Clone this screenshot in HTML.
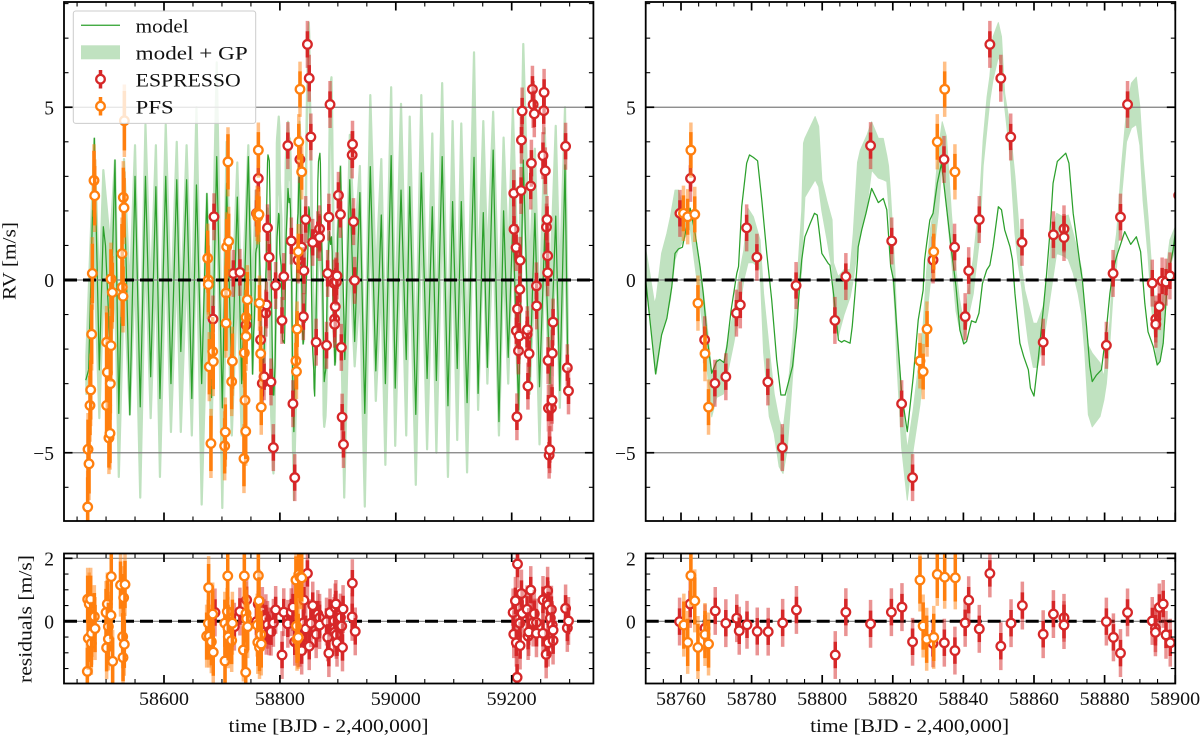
<!DOCTYPE html>
<html lang="en">
<head>
<meta charset="utf-8">
<title>RV time series</title>
<style>
html,body{margin:0;padding:0;background:#fff;}
svg{display:block;font-family:"Liberation Serif",serif;}
</style>
</head>
<body>
<svg id="chart" xmlns="http://www.w3.org/2000/svg" width="1200" height="738" viewBox="0 0 1200 738">
  <defs>
    <clipPath id="clip-a"><rect x="64" y="2" width="529.4" height="519"/></clipPath>
    <clipPath id="clip-b"><rect x="645.7" y="2" width="529.6" height="519"/></clipPath>
    <clipPath id="clip-c"><rect x="64" y="553.5" width="529.4" height="130"/></clipPath>
    <clipPath id="clip-d"><rect x="645.7" y="553.5" width="529.6" height="130"/></clipPath>
  </defs>
  <rect x="0" y="0" width="1200" height="738" fill="#fff"/>
  <g id="panel-a" clip-path="url(#clip-a)"></g>
  <g id="panel-b" clip-path="url(#clip-b)"></g>
  <g id="panel-c" clip-path="url(#clip-c)"></g>
  <g id="panel-d" clip-path="url(#clip-d)"></g>
  <g id="axes-layer"></g>

  <text transform="translate(15.5,261) rotate(-90)" text-anchor="middle" font-size="18.5" textLength="78" lengthAdjust="spacingAndGlyphs" fill="#111">RV [m/s]</text>
  <text transform="translate(31.5,619) rotate(-90)" text-anchor="middle" font-size="18.5" textLength="128" lengthAdjust="spacingAndGlyphs" fill="#111">residuals [m/s]</text>
  <text x="328.5" y="732" text-anchor="middle" font-size="18.5" textLength="200" lengthAdjust="spacingAndGlyphs" fill="#111">time [BJD - 2,400,000]</text>
  <text x="909.6" y="732" text-anchor="middle" font-size="18.5" textLength="199" lengthAdjust="spacingAndGlyphs" fill="#111">time [BJD - 2,400,000]</text>

  <g>
    <rect x="73.3" y="11" width="182.4" height="112.4" rx="2.5" fill="#fff" fill-opacity="0.8" stroke="#ccc" stroke-width="1"/>
    <line x1="81" y1="25.3" x2="120" y2="25.3" stroke="#2ca02c" stroke-width="1.25"/>
    <text x="135.7" y="32.5" font-size="19" textLength="53" lengthAdjust="spacingAndGlyphs" fill="#111">model</text>
    <rect x="81" y="45.3" width="39" height="14" fill="#c0e2c0"/>
    <text x="135.7" y="59.5" font-size="19" textLength="112" lengthAdjust="spacingAndGlyphs" fill="#111">model + GP</text>
    <line x1="100.5" y1="70" x2="100.5" y2="88.5" stroke="#d62728" stroke-width="3.5"/>
    <circle cx="100.5" cy="79.2" r="4.3" fill="#fff" stroke="#d62728" stroke-width="2.3"/>
    <text x="135.7" y="86.5" font-size="19" textLength="105" lengthAdjust="spacingAndGlyphs" fill="#111">ESPRESSO</text>
    <line x1="100.5" y1="97" x2="100.5" y2="115.5" stroke="#ff7f0e" stroke-width="3.5"/>
    <circle cx="100.5" cy="106.2" r="4.3" fill="#fff" stroke="#ff7f0e" stroke-width="2.3"/>
    <text x="135.7" y="113.5" font-size="19" textLength="38" lengthAdjust="spacingAndGlyphs" fill="#111">PFS</text>
  </g>
</svg>
<script>
// ---- tick values ----
const leftMajorTicks = [58600, 58800, 59000, 59200];
const leftTickLabels = ['58600', '58800', '59000', '59200'];
const rightMajorTicks = [58760, 58780, 58800, 58820, 58840, 58860, 58880, 58900];
const rightTickLabels = ['58760', '58780', '58800', '58820', '58840', '58860', '58880', '58900'];
const leftMinorTicks = [58450, 58500, 58550, 58650, 58700, 58750, 58850, 58900, 58950, 59050, 59100, 59150, 59250, 59300];
const rightMinorTicks = [58755, 58765, 58770, 58775, 58785, 58790, 58795, 58805, 58810, 58815, 58825, 58830, 58835, 58845, 58850, 58855, 58865, 58870, 58875, 58885, 58890, 58895];
const rvMajorTicks = [-5, 0, 5];
const rvTickLabels = ['\u22125', '0', '5'];
const rvMinorTicks = [-6, -4, -3, -2, -1, 1, 2, 3, 4, 6, 7, 8];
const resMajorTicks = [0, 2];
const resTickLabels = ['0', '2'];
const resMinorTicks = [-1.5, -1, -0.5, 0.5, 1, 1.5];

// ---- model curve ----
const modelTime = [58465,58470,58479.8,58488.4,58495.3,58499,58507,58515.4,58522,58531,58541,58550,58559,58568,58577,58586,58593,58603,58612,58622,58629,58639,58648,58656,58665,58674,58682,58691,58700.6,58708,58717,58726.5,58734,58745.5,
58750,58752.8,58754.5,58756,58757.4,58758.3,58759.3,58760.4,58761.6,58762.6,58764,58765.4,58766.3,58767.5,58768.7,58770.1,58771,58772.2,58773,58774.2,58775.8,58776.3,58777.2,58778.6,58779.4,58780.5,58781.7,58782.9,58784.3,58785.7,58787.1,58788.3,58789.5,58791.6,58792.8,58793.7,58794.2,58795.1,58796.6,58797.8,58798.6,58799.9,58801.7,58802.2,58803.2,58804.6,58805.5,58806.2,58807.9,58808.5,58809.3,58810,58810.2,58811.2,58812.4,58814,58815.9,58817.3,58818.3,58819.4,58820.2,58821.1,58822.5,58824.1,58825.8,58827.2,58828.6,58829,58829.6,58830.5,58831.4,58832.6,58833.8,58835.2,58836.6,58837.9,58839,58840.1,58840.9,58842.3,58843.5,58844.4,58845.4,58846.6,58847.5,58848.4,58849.9,58850.8,58851.7,58853.2,58853.9,58854.6,58856,58857.1,58858.4,58859,58860,58861.2,58862.6,58863.5,58864.5,58865.4,58866.6,58869,58869.9,58871.1,58873,58873.7,58874.9,58875.8,58876.5,58877.7,58879.1,58880.4,58881.5,58882.4,58883.4,58884.3,58885.7,58887.4,58889,58890.2,58891.4,58892.3,58893.8,58894.9,58895.7,58896.6,58897.5,58898.5,58899.4,58900,
58904.5,58912,58920.6,58929,58938,58946.5,58956,58965.5,58975,58982,58992,58999,59009,59018,59024,59034.5,59044,59054,59063,59070,59080,59090,59098,59106,59113,59123,59135,59142,59151,59158,59168,59178,59186,59194,59202,59212,59220,59231,59240,59248,59257,59266,59276,59283,59292,59297];
const modelRV = [-2.9,-2.6,4.1,-2.6,1.54,1,-2,3.47,-3.86,3,-3.9,3,-3.67,3,-2.8,2.7,-3.43,3,-3,2.9,-2.07,2.9,-3.43,2.75,-3,2.5,-3.4,3.57,-3.7,2.8,-3,2.4,-3,3.57,
0,-2.72,-1.59,-1.11,-0.19,0.77,0.9,0.95,1.54,2.07,1.35,0.39,-0.39,-1.74,-2.7,-2.36,-2.3,-2.39,-1.93,-0.87,0.19,0.39,2.12,3.38,3.62,3.55,3.45,2.3,0.77,-0.58,-2.3,-3.33,-3.33,-2.5,-1.35,0,0.58,1.25,1.64,1.93,1.88,0.77,0.48,0.43,-0.39,-1.74,-1.8,-1.75,-1.83,-1.35,-0.39,0.58,0.96,1.45,1.93,2.65,2.24,2.36,2.03,0.39,0,-1.35,-3.28,-4.39,-2.8,-1.16,-0.29,0.58,1.06,1.74,1.93,2.8,3.38,2.12,0.87,-0.19,-1.45,-1.85,-1.78,-1.18,-1.23,-0.96,-0.1,0.29,0.43,0.96,2.12,2.03,1.45,0.96,0.58,-0.39,-1.83,-2.22,-2.6,-3.13,-3.36,-2.3,-0.87,0.1,1.35,2.8,3.43,3.67,3.38,1.93,0.48,0,-1.35,-2.5,-2.94,-2.75,-2.6,-1.54,-0.39,0.29,0.68,0.96,1.4,1.03,1.25,0.82,-0.68,-1.5,-1.93,-2.46,-2.36,-1.83,-0.48,0.39,0.87,1.35,
3.28,-2.3,2.9,-1.78,2.53,-3.86,3.28,-2.63,1.88,-3,3.6,-3.13,2.6,-2.3,2.7,-3.89,3.1,-2.85,2.12,-2.91,3.57,-3.64,2.27,-2.56,2.27,-3.55,3.55,-3.28,1.95,-2.53,3.76,-4.1,2,-2.24,1.7,-3.76,3.47,-3,1.93,-3.09,1.35,-3,1.85,-3.2,3.33,-2.8];

// ---- model + GP band ----
const bandTime = [58466,58479.8,58488.4,58495.3,58507,58515.4,58522,58531,58541,58550,58559,58568,58577,58586,58593,58603,58612,58622,58629,58639,58648,58656,58665,58674,58682,58691,58700.6,58708,58717,58726.5,58734,58745.5,
58750,58751,58752.5,58753,58754.5,58756,58757,58758.3,58759.3,58761,58762.6,58764,58765.4,58766.3,58767.5,58768.7,58770.1,58772,58773,58775,58776.4,58777.8,58779,58780.5,58782.4,58783.4,58785,58786.4,58787.8,58788.9,58790.1,58791.6,58792.9,58794.2,58794.7,58795.1,58798,58799,58799.9,58801.3,58802.8,58803.2,58804.5,58806.2,58807.9,58808.8,58810,58810.8,58812.7,58814,58815.9,58817.3,58818.3,58818.8,58819.3,58819.7,58820.6,58821.1,58822.5,58824.1,58825.8,58827.7,58828.6,58829.6,58830.7,58831.4,58832.9,58834,58835.2,58836.6,58837.9,58838.8,58840.1,58841.4,58842.8,58843.2,58844.7,58845.6,58846.7,58847.5,58848.4,58849.9,58850.8,58851.7,58853.2,58854.6,58855.5,58856.5,58857.4,58858.4,58859.8,58860.9,58862.6,58864,58865,58866.4,58868.3,58869.7,58871.1,58872.5,58873.5,58874.4,58875.4,58876.5,58878.7,58879.8,58880.5,58881.5,58882.4,58883.4,58884.8,58886.2,58887.6,58889,58890,58890.9,58892.3,58893.3,58894.9,58895.7,58896.6,58897.5,58898.5,58900,
58904.5,58911,58920.6,58929,58938,58946.5,58956,58965.5,58975,58982,58992,58999,59009,59018,59024,59034.5,59044,59054,59063,59070,59080,59090,59098,59106,59113,59123,59135,59142,59151,59158,59168,59178,59186,59194,59202,59212,59220,59231,59240,59248,59257,59266,59276,59283,59292,59297];
const bandUpper = [-2.2,4.1,-0.5,3.18,1,3.47,-2.2,3.5,-0.4,3.9,-2.8,4.5,-0.5,3.9,-2.2,4.5,-0.9,4,-0.9,3.9,-1,5,-3,2.5,-1,6.3,-3.1,4,-1,3.4,-1,3.9,
0.9,0.3,-0.68,-0.5,0.77,1.35,1.83,2.6,2.6,1.93,2.1,1.35,0.4,-0.3,-1.4,-2.7,-2.3,-2.4,-1.85,-0.87,0.1,0.87,2.07,1.83,1.16,-0.4,-2,-3.3,-4.05,-4.35,-3.3,-1.8,0,2,3.96,4.1,4.73,4.45,2.9,2.3,1.74,0.5,0.1,0.3,0.3,1.35,3.4,3.76,4.2,4.58,4.1,4.1,3.6,3.3,2.6,1.9,0.3,-1.16,-3.28,-4.9,-3.75,-2.1,-1.3,0.3,1.5,1.93,3.76,4.58,4.15,1.93,0.3,-0.5,-1.25,-0.3,0.6,1,2.5,4.05,5.3,5.9,7.04,7.45,7.04,5.4,4.44,3,1.83,0.39,-0.3,-0.7,-1.25,-1.25,-0.77,0.1,1.35,1.93,1.83,1.88,1.35,0.77,0.3,-1.06,-1.9,-2.12,-2.4,-2.8,-2.1,-1.2,0.58,1.35,3.3,4.9,5.7,5.87,5,3.5,1.83,0.39,-1.35,-1.2,-0.4,0.4,1.16,1.54,
3.3,-2.8,4.2,1,3.3,-3.06,5.35,0,3.5,-1.85,5.58,-1.3,5.1,-1,4.73,-2.43,5.35,-1.4,4.24,-1.5,5.7,-2.2,4.6,-1.13,4.53,-2.07,6.59,-0.26,4.6,0.5,4.87,-1,4.12,0.5,4.97,-0.5,6.83,0.2,3.8,-1.26,4.4,-0.4,4.46,-0.2,5,-1.5];
const bandLower = [-3.3,0.6,-4,-0.3,-2.5,0,-5.7,0,-3.9,0.4,-6.3,1,-4,0.4,-5.7,1,-4.4,0.5,-4.4,0.4,-4.5,1.5,-6.5,-1,-4.5,2.8,-6.6,0.5,-4.5,-0.1,-4.5,0.4,
-0.2,-0.9,-2.3,-2.72,-1.59,-1.05,-0.58,0.58,0.9,1.2,1.5,0.39,-0.7,-1.5,-2.7,-3.96,-3.4,-3.3,-2.8,-1.8,-0.96,0,0.5,0.5,0.3,-2.1,-3.95,-4.45,-5.4,-5.6,-4.9,-2.8,-1.05,0.3,1.6,2.4,2.9,2.7,2,1.2,0.3,-0.8,-1.65,-1,-0.5,0,0.9,1.35,2.12,3.18,2.95,2.9,2.85,2.2,1.35,0.5,-0.9,-2.3,-4.85,-6.37,-4.9,-3.6,-2.6,-1.06,0,0.6,1.93,3.38,2.12,0.58,-0.9,-1.35,-1.85,-1.06,-0.4,0,1.3,3.3,4.4,5.2,5.8,6.46,6.2,5,3.6,1.35,0.48,-0.2,-1,-1.8,-2.53,-2.53,-1.83,-0.9,-0.2,0.77,0.7,0.6,0.2,-0.4,-1,-2.1,-3.9,-4.25,-3.95,-3.47,-3,-1.8,-0.39,0.39,2.4,4,4.4,4.5,3.9,2.3,0.7,-0.8,-2.46,-2.36,-1.83,-0.48,0.39,0.87,
-0.2,-6.3,0.7,-2.5,-0.2,-6.56,1.85,-3.5,0,-5.35,2.08,-4.8,1.6,-4.5,1.23,-5.93,1.85,-4.9,0.74,-5,2.2,-5.7,1.1,-4.63,1.03,-5.57,3.09,-3.76,1.1,-3,1.37,-4.5,0.62,-3,1.47,-4,3.33,-3.3,0.3,-4.76,0.9,-3.9,0.96,-3.7,1.5,-3];

// ---- ESPRESSO radial velocities ----
const espressoTime = [58684.6,58686.3,58719.6,58731,58741.5,58759.7,58762.7,58766.7,58769.6,58772.7,58775.7,58776.8,58778.6,58781.5,58784.6,58788.7,58792.6,58803.6,58806.7,58813.7,58819.7,58822.5,58825.6,58831.4,58834.5,58837.5,58840.5,58841.5,58844.5,58847.5,58850.6,58853.4,58856.6,58862.6,58865.5,58868.5,58868.5,58880.5,58882.4,58884.5,58886.5,58893.5,58894.5,58894.5,58895.5,58896.3,58897.4,58898.5,
58901,58904.5,58906,58907.4,58909.7,58924.7,58925.3,58927,58929,
59203.6,59204,59207.6,59208,59209,59210,59211.7,59212.8,59214,59214.5,59216.2,59216.8,59218,59226.5,59227,59228,59230,59232.9,59234,59235.8,59237,59239,59242.7,59243,59254,59255.3,59255.9,59258,59260,59261,59262,59262,59262.8,59263.4,59264.6,59265.7,59268.5,59269.7,59270,59271.4,59293,59296,59298];
const espressoRV = [-1.13,1.83,0.19,0.22,-1.3,1.93,2.94,-1.73,-2.99,-2.8,-0.96,-0.72,1.51,0.66,-2.95,-4.85,-0.16,-1.17,0.1,3.89,1.13,-3.58,-5.72,0.58,3.49,0.95,-1.06,0.27,1.75,6.82,5.84,4.14,1.09,-1.8,1.31,1.48,1.23,-1.89,0.19,1.82,5.08,-0.09,-1.13,-1.28,-0.77,-0.03,-0.06,0.12,
2.45,1.9,-1.95,-3.97,-4.76,3.62,3.93,1.69,-0.01,
2.51,1.47,0.94,-1.47,-3.96,-0.84,-2.05,-1.62,-0.27,0.57,2.59,4.05,4.89,-1.57,-1.44,-3.07,-2.13,2.72,3.38,5.52,5.08,4.81,-0.17,-0.75,3.6,4.9,5.43,3.16,1.53,1.75,0.7,0.21,-2.33,-3.71,-5.07,-4.91,-3.7,-3.48,-2.12,-1.22,3.87,-2.54,-3.21];
const espressoErr = 0.38;
const espressoTotalErr = 0.68;

// ---- PFS radial velocities ----
const pfsTime = [58468.3,58468.9,58470.6,58472.3,58473.5,58475.2,58476.3,58479.2,58480.4,58501,58501,58502.2,58505,58506.8,58507.4,58508.5,58508.5,58510.8,58527.5,58528,58529.3,58529.8,58531,58531.6,
58675.4,58676.5,58676.5,58678.2,58681,58684,58685,58704.7,58705.8,58707,58707,58708.1,58710.4,58711.6,58716.8,58718,58738,58738.6,58739.8,58741,58741.5,58741.5,58743.8,
58760.7,58761.9,58762.8,58763.9,58764.8,58766.8,58767.8,58827.7,58828.6,58829.7,58831.6,58832.6,58834.7,58837.6];
const pfsRV = [-6.57,-4.9,-5.32,-3.63,-3.18,-1.57,0.19,2.88,2.44,-1.8,-3.63,-2.67,-4.57,-4.44,-3,0.03,-1.9,-0.36,0.76,-0.21,-0.47,2.39,2.09,4.61,
0.63,0,-0.13,-2.51,-4.73,-2.07,-2.36,-4.8,-4.4,-0.38,-1.25,0.96,3.42,1.12,-2.94,-2.35,-5.17,-2.11,-3.48,-4.38,-1.08,-1.63,-0.57,
1.93,1.83,3.76,1.9,-0.67,-2.13,-3.68,-2.34,-2.65,-1.42,0.82,4,5.52,3.13];
const pfsErr = [0.86,0.86,0.86,0.86,0.86,0.86,0.86,0.86,0.86,0.86,0.86,0.86,0.86,0.86,0.86,0.86,0.86,0.86,0.86,0.86,0.86,0.86,0.86,0.86,
0.8,0.8,0.8,0.8,0.8,0.8,0.8,0.8,0.8,0.8,0.8,0.8,0.8,0.8,0.8,0.8,0.8,0.8,0.8,0.8,0.8,0.8,0.8,
0.52,0.52,0.52,0.52,0.52,0.52,0.52,0.52,0.52,0.52,0.52,0.52,0.52,0.52];
const pfsTotalErr = [1.05,1.05,1.05,1.05,1.05,1.05,1.05,1.05,1.05,1.05,1.05,1.05,1.05,1.05,1.05,1.05,1.05,1.05,1.05,1.05,1.05,1.05,1.05,1.05,
1,1,1,1,1,1,1,1,1,1,1,1,1,1,1,1,1,1,1,1,1,1,1,
0.8,0.8,0.8,0.8,0.8,0.8,0.8,0.8,0.8,0.8,0.8,0.8,0.8,0.8];

// ---- residuals ----
const espressoResTime = [58688,58721.4,58731,58742.6,58759.6,58762.6,58766.8,58769.7,58772.7,58775.8,58776.5,58778.7,58781.6,58784.7,58788.8,58792.7,58803.7,58806.7,58813.7,58819.6,58822.6,58825.6,58831.4,58834.6,58837.6,58840.5,58841.5,58844.5,58847.5,58850.6,58853.5,58856.7,58862.6,58865.5,58868.5,58868.5,58880.5,58882.5,58884.5,58886.5,58893.5,58894.4,58894.4,58895.5,58896.6,58897.4,58898.6,
58904.5,58906.7,58908,58909,58924.7,58925,58930,
59202.4,59203.6,59206.4,59208,59209.3,59210,59214,59214.5,59216.8,59218,59226.6,59228.3,59229.4,59232.9,59237,59239,59242.7,59242.7,59254,59254,59259.5,59261.6,59262,59262.8,59262.8,59266.7,59268.5,59270,59271.4,59271.4,59293,59296,59298];
const espressoRes = [0.28,-0.17,0.31,0.68,-0.01,0.55,-0.22,0.33,-0.06,0.1,-0.3,-0.11,-0.32,-0.33,-0.05,0.36,-1.07,0.29,-0.08,0.29,0.45,-0.65,-0.7,-0.68,-0.93,-0.05,0.67,-0.24,1.52,-0.79,-0.06,0.5,-0.41,0.23,0.11,-0.12,-0.01,-0.51,-1.01,0.28,0.01,-0.22,-0.35,0.44,0.55,-0.43,-0.68,
0.12,-0.15,-0.83,0.39,0.14,1.21,-0.32,
0.28,-0.41,0.65,-0.68,-1.78,1.82,-0.06,-0.77,0.88,0.25,0.38,-0.47,-0.34,0.99,-0.04,0.24,-0.04,-0.38,0.68,-0.38,-1.05,0.65,0.97,0.52,-0.68,0.1,0.37,-0.12,-0.61,-0.28,0.41,-0.21,0.01];
const espressoResErr = 0.42;
const espressoResTotalErr = 0.76;
const pfsResTime = [58467.7,58468.3,58469.4,58471,58473.5,58474.6,58475,58479.8,58481,58500,58501,58502.2,58504,58504,58508.5,58509,58511.4,58525,58528.7,58529.3,58530.4,58531.5,58532.7,
58673.6,58676.5,58677,58678.2,58681.7,58684,58685,58705,58705.3,58709.3,58710,58710.4,58711,58716.8,58718,58737,58738.6,58741,58741.5,58742.6,58744.4,
58760.8,58761.9,58762.8,58763.9,58764.8,58766.8,58767.8,58827.7,58828.6,58829.6,58831.6,58832.6,58834.7,58837.7];
const pfsRes = [-1.59,0.7,-0.54,0.55,0.7,-0.7,-0.38,0.15,-0.23,0.28,-0.84,0.55,-0.17,-0.56,0.19,1.42,-1.27,1.15,-0.49,-1.15,0.75,-0.73,1.17,
-0.47,-0.06,1.07,-0.47,-0.65,0.23,-0.98,-0.06,-1.26,0.31,1.44,-0.22,-0.49,-0.61,-0.06,-0.91,1.44,-1.62,0.25,0.08,-0.17,
-0.12,-0.67,1.45,0.65,-0.83,-0.42,-0.72,1.31,-0.15,-0.57,-0.51,1.49,1.4,1.38];
const pfsResErr = 0.75;
const pfsResTotalErr = 1.0;

// ---- axis functions ----
const xLeft = t => 164 + (t - 58600) * 0.5795;
const xRight = t => 645.7 + (t - 58750) * 3.53;
const yRV = v => 280 - v * 34.55;
const yRes = v => 621.3 - v * 31.5;

const NS = 'http://www.w3.org/2000/svg';
function make(tag, parent, attrs) {
  const el = document.createElementNS(NS, tag);
  for (const k in attrs) el.setAttribute(k, attrs[k]);
  parent.appendChild(el);
  return el;
}

function drawGuides(g, sx, sy, grayValues, x0, x1) {
  grayValues.forEach(v => {
    const guide = make('line', g, {x1: x0, x2: x1, y1: sy(v), y2: sy(v), stroke: '#7f7f7f', 'stroke-width': 1.2});
    
    
  });
  const zero = make('line', g, {x1: x0, x2: x1, y1: sy(0), y2: sy(0), stroke: '#000', 'stroke-width': 3, 'stroke-dasharray': '13 6'});
  
  
}

function drawModel(g, sx, sy, bandStroke) {
  let pts = [];
  bandTime.forEach((t, i) => pts.push(sx(t).toFixed(2) + ',' + sy(bandUpper[i]).toFixed(2)));
  for (let i = bandTime.length - 1; i >= 0; i--) pts.push(sx(bandTime[i]).toFixed(2) + ',' + sy(bandLower[i]).toFixed(2));
  const band = make('polygon', g, {points: pts.join(' '), fill: '#c0e2c0', stroke: '#c0e2c0', 'stroke-width': bandStroke, 'stroke-linejoin': 'round'});
  
  
  const linePts = modelTime.map((t, i) => sx(t).toFixed(2) + ',' + sy(modelRV[i]).toFixed(2)).join(' ');
  const line = make('polyline', g, {points: linePts, fill: 'none', stroke: '#2ca02c', 'stroke-width': 1.25, 'stroke-linejoin': 'round'});
  
  
}

function drawEspresso(g, sx, sy, times, values, err, total) {
  times.forEach((t, i) => {
    const x = sx(t), y = sy(values[i]);
    const outer = make('line', g, {x1: x, x2: x, y1: sy(values[i] - total), y2: sy(values[i] + total), stroke: '#d62728', 'stroke-opacity': 0.5, 'stroke-width': 3.5});
    
    
    const inner = make('line', g, {x1: x, x2: x, y1: sy(values[i] - err), y2: sy(values[i] + err), stroke: '#d62728', 'stroke-width': 3.5});
    
    
    const dot = make('circle', g, {cx: x, cy: y, r: 4.3, fill: '#fff', stroke: '#d62728', 'stroke-width': 2.3});
    
    
  });
}

function drawPfs(g, sx, sy, times, values, errs, totals) {
  times.forEach((t, i) => {
    const x = sx(t), y = sy(values[i]);
    const err = Array.isArray(errs) ? errs[i] : errs;
    const total = Array.isArray(totals) ? totals[i] : totals;
    const outer = make('line', g, {x1: x, x2: x, y1: sy(values[i] - total), y2: sy(values[i] + total), stroke: '#ff7f0e', 'stroke-opacity': 0.5, 'stroke-width': 3.5});
    
    
    const inner = make('line', g, {x1: x, x2: x, y1: sy(values[i] - err), y2: sy(values[i] + err), stroke: '#ff7f0e', 'stroke-width': 3.5});
    
    
    const dot = make('circle', g, {cx: x, cy: y, r: 4.3, fill: '#fff', stroke: '#ff7f0e', 'stroke-width': 2.3});
    
    
  });
}

function drawTick(layer, x1, y1, x2, y2, w) {
  const tick = make('line', layer, {x1: x1, y1: y1, x2: x2, y2: y2, stroke: '#000', 'stroke-width': w});
  
  
}

function drawAxes(box, sx, sy, xMajor, xMinor, xLabels, yMajor, yMinor, yLabels) {
  const layer = document.getElementById('axes-layer');
  const M = 8.5, m = 4.5;
  xMajor.forEach(t => {
    drawTick(layer, sx(t), box.top, sx(t), box.top + M, 1.7);
    drawTick(layer, sx(t), box.bottom, sx(t), box.bottom - M, 1.7);
  });
  xMinor.forEach(t => {
    drawTick(layer, sx(t), box.top, sx(t), box.top + m, 1.1);
    drawTick(layer, sx(t), box.bottom, sx(t), box.bottom - m, 1.1);
  });
  yMajor.forEach(v => {
    drawTick(layer, box.left, sy(v), box.left + M, sy(v), 1.7);
    drawTick(layer, box.right, sy(v), box.right - M, sy(v), 1.7);
  });
  yMinor.forEach(v => {
    drawTick(layer, box.left, sy(v), box.left + m, sy(v), 1.1);
    drawTick(layer, box.right, sy(v), box.right - m, sy(v), 1.1);
  });
  if (xLabels) {
    xMajor.forEach((t, i) => {
      const label = make('text', layer, {x: sx(t), y: box.bottom + 21.5, 'text-anchor': 'middle', 'font-size': 19, fill: '#111', textLength: 50, lengthAdjust: 'spacingAndGlyphs'});
      label.textContent = xLabels[i];
      
      
    });
  }
  yMajor.forEach((v, i) => {
    const label = make('text', layer, {x: box.left - 10, y: sy(v) + 7, 'text-anchor': 'end', 'font-size': 19.5, fill: '#111'});
    label.textContent = yLabels[i];
    
    
  });
  const frame = make('rect', layer, {x: box.left, y: box.top, width: box.right - box.left, height: box.bottom - box.top, fill: 'none', stroke: '#000', 'stroke-width': 1.8});
  
  
}

const boxA = {left: 64, right: 593.4, top: 2, bottom: 521};
const boxB = {left: 645.7, right: 1175.3, top: 2, bottom: 521};
const boxC = {left: 64, right: 593.4, top: 553.5, bottom: 683.5};
const boxD = {left: 645.7, right: 1175.3, top: 553.5, bottom: 683.5};

const panelA = document.getElementById('panel-a');
drawModel(panelA, xLeft, yRV, 2.2);
drawGuides(panelA, xLeft, yRV, [-5, 0, 5], boxA.left, boxA.right);
drawEspresso(panelA, xLeft, yRV, espressoTime, espressoRV, espressoErr, espressoTotalErr);
drawPfs(panelA, xLeft, yRV, pfsTime, pfsRV, pfsErr, pfsTotalErr);

const panelB = document.getElementById('panel-b');
drawModel(panelB, xRight, yRV, 1);
drawGuides(panelB, xRight, yRV, [-5, 0, 5], boxB.left, boxB.right);
drawEspresso(panelB, xRight, yRV, espressoTime, espressoRV, espressoErr, espressoTotalErr);
drawPfs(panelB, xRight, yRV, pfsTime, pfsRV, pfsErr, pfsTotalErr);

const panelC = document.getElementById('panel-c');
drawGuides(panelC, xLeft, yRes, [0, 2], boxC.left, boxC.right);
drawEspresso(panelC, xLeft, yRes, espressoResTime, espressoRes, espressoResErr, espressoResTotalErr);
drawPfs(panelC, xLeft, yRes, pfsResTime, pfsRes, pfsResErr, pfsResTotalErr);

const panelD = document.getElementById('panel-d');
drawGuides(panelD, xRight, yRes, [0, 2], boxD.left, boxD.right);
drawEspresso(panelD, xRight, yRes, espressoResTime, espressoRes, espressoResErr, espressoResTotalErr);
drawPfs(panelD, xRight, yRes, pfsResTime, pfsRes, pfsResErr, pfsResTotalErr);

drawAxes(boxA, xLeft, yRV, leftMajorTicks, leftMinorTicks, null, rvMajorTicks, rvMinorTicks, rvTickLabels);
drawAxes(boxB, xRight, yRV, rightMajorTicks, rightMinorTicks, null, rvMajorTicks, rvMinorTicks, rvTickLabels);
drawAxes(boxC, xLeft, yRes, leftMajorTicks, leftMinorTicks, leftTickLabels, resMajorTicks, resMinorTicks, resTickLabels);
drawAxes(boxD, xRight, yRes, rightMajorTicks, rightMinorTicks, rightTickLabels, resMajorTicks, resMinorTicks, resTickLabels);
</script>
</body>
</html>
